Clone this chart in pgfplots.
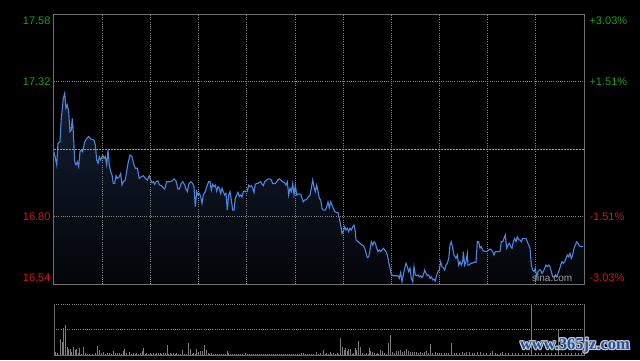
\documentclass[border=0pt]{standalone}
\usepackage{pgfplots}
\usepackage{pgfplotstable}
\pgfplotsset{compat=1.18}
\usepackage{fontspec}
\setmainfont{Liberation Sans}
\newfontfamily\wmfont{Liberation Serif}
\definecolor{upg}{RGB}{26,160,26}
\definecolor{dnr}{RGB}{210,22,22}
\definecolor{gridc}{RGB}{135,135,135}
\definecolor{bordc}{RGB}{110,110,110}
\definecolor{linec}{RGB}{74,134,226}
\definecolor{filltop}{RGB}{18,30,50}
\definecolor{fillbot}{RGB}{4,5,8}
\definecolor{volc}{RGB}{125,125,125}
\definecolor{sinac}{RGB}{160,160,160}
\definecolor{wmblue}{RGB}{35,80,150}
\definecolor{wmhalo}{RGB}{200,205,215}

\pgfplotstableread{
x y
0 17.051
2.7 17.000
4 17.083
6 17.089
7.3 17.179
9.3 17.256
10.7 17.276
12 17.218
13.3 17.231
14.7 17.205
16 17.128
17.3 17.134
18.3 17.179
19.3 17.128
20.7 17.012
22 17.000
23.3 17.012
24.7 16.993
26 17.051
27.3 17.057
28.7 17.051
30.7 17.089
33.3 17.105
34.7 17.109
36.7 17.100
40 17.096
41.3 17.077
42.7 17.019
44 17.006
45.3 17.032
46.7 17.019
48.7 17.038
50 17.025
51.3 17.032
52.7 17.000
54 17.057
55.3 17.000
56.7 16.974
58 16.961
59.3 16.929
60.7 16.929
62 16.958
63.3 16.948
65.3 16.955
66.7 16.967
68 16.923
69.3 16.935
71.3 16.942
72.7 16.974
74 17.006
76 17.038
78 17.032
80 17.000
81.3 16.987
83.3 16.987
85.3 16.948
87.3 16.955
89.3 16.958
91.3 16.948
93.3 16.942
95.3 16.958
96.7 16.942
98 16.931
99.3 16.935
100.7 16.925
102 16.935
104 16.938
105.3 16.923
107.3 16.920
108.7 16.915
110.7 16.907
112.7 16.935
115.3 16.935
118 16.938
120 16.946
122 16.938
124 16.907
125.3 16.907
127.3 16.929
128.7 16.935
130.7 16.923
132 16.907
133.3 16.897
134.7 16.925
136.7 16.935
138.7 16.929
140 16.916
141.3 16.839
142.7 16.897
144 16.884
145.3 16.890
146.7 16.878
148 16.852
149.3 16.884
151.3 16.897
153.3 16.923
154.7 16.935
156 16.935
157.3 16.903
158.7 16.925
160 16.916
161.3 16.922
162.7 16.899
164 16.916
165.3 16.910
166.7 16.890
168 16.910
169.3 16.897
170.7 16.884
172 16.890
173.3 16.826
174.7 16.884
176 16.897
177.3 16.865
178.7 16.826
180 16.826
181.3 16.871
182.7 16.884
184 16.894
185.3 16.878
186.7 16.884
188 16.876
189.3 16.897
190.7 16.899
192 16.897
193.3 16.899
194.7 16.922
196 16.916
197.3 16.920
198.7 16.910
200 16.894
201.3 16.925
202.7 16.929
204 16.929
205.3 16.933
206.7 16.935
208 16.926
209.3 16.920
210.7 16.935
212 16.939
214 16.946
216 16.946
217.3 16.942
218.7 16.928
220 16.928
221.3 16.928
222.7 16.935
224 16.942
225.3 16.946
226.7 16.942
228.7 16.935
230.7 16.931
232 16.922
233.3 16.935
234.7 16.884
236 16.910
237.3 16.897
238.7 16.929
240 16.884
241.3 16.922
242.7 16.884
244 16.887
245.3 16.888
246.7 16.887
248 16.871
249.3 16.858
250.7 16.865
252 16.865
253.3 16.871
254.7 16.878
256 16.884
257.3 16.910
258.7 16.942
260 16.916
261.3 16.897
262.7 16.922
264 16.899
265.3 16.871
266.7 16.865
268 16.833
269.3 16.826
271.3 16.826
272.7 16.839
274 16.858
275.3 16.835
276.7 16.858
278 16.845
279.3 16.833
280.7 16.820
282.7 16.817
284 16.816
285.3 16.794
286.7 16.768
288 16.736
289.3 16.743
290.7 16.762
292 16.749
293.3 16.756
294.7 16.743
296 16.756
297.3 16.749
298.7 16.762
300 16.768
301.3 16.743
302 16.711
304 16.704
306 16.698
308 16.691
309.3 16.689
310.7 16.679
312 16.659
313.3 16.643
314.7 16.646
316 16.672
317.3 16.704
318.7 16.691
320 16.704
321.3 16.698
322.7 16.679
324 16.666
325.3 16.672
326.7 16.666
328 16.672
329.3 16.679
330.7 16.672
332 16.666
333.3 16.653
334.7 16.627
336 16.602
337.3 16.578
339.3 16.573
341.3 16.573
344 16.573
345.3 16.563
346.7 16.586
348 16.550
349.3 16.576
350.7 16.602
352 16.621
353.3 16.608
354.7 16.589
356 16.602
357.3 16.563
358.7 16.550
360 16.608
361.3 16.576
362.7 16.573
364 16.576
365.3 16.569
366.7 16.573
368 16.566
369.3 16.576
370.7 16.595
372 16.582
373.3 16.573
374.7 16.576
376 16.563
377.3 16.569
378.7 16.557
380 16.560
381.3 16.553
382.7 16.576
384 16.589
385.3 16.595
386.7 16.627
388 16.608
389.3 16.604
390.7 16.595
392 16.614
393.3 16.621
394.7 16.640
396 16.691
397.3 16.704
398.7 16.679
400 16.653
402 16.640
403.3 16.653
404.7 16.614
406 16.627
407.3 16.614
408.7 16.627
409.3 16.666
410.7 16.614
412 16.627
413.3 16.659
414 16.614
415.3 16.614
416.7 16.621
418 16.621
420 16.625
422 16.625
423.3 16.704
424.7 16.704
426 16.679
427.3 16.685
428.7 16.672
430.7 16.666
432.7 16.666
434.7 16.672
436 16.676
437.3 16.672
438.7 16.666
440 16.653
441.3 16.666
442.7 16.666
444.7 16.666
446 16.666
447.3 16.704
448.7 16.704
450 16.717
451.3 16.730
452.7 16.679
454 16.691
455.3 16.698
456.7 16.685
458 16.679
459.3 16.704
460.7 16.717
462 16.704
463.3 16.723
464.7 16.711
466 16.711
467.3 16.704
468.7 16.717
470 16.717
472 16.717
473.3 16.704
474.7 16.691
476 16.679
477.3 16.614
478.7 16.595
480 16.589
481.3 16.602
482.7 16.569
484 16.589
485.3 16.595
486.7 16.595
488 16.582
489.3 16.589
490.7 16.602
492 16.614
493.3 16.608
494.7 16.614
496 16.608
497.3 16.589
498.7 16.569
500 16.569
501.3 16.576
502.7 16.569
504 16.582
505.3 16.595
506.7 16.614
508 16.627
509.3 16.621
510.7 16.627
512 16.640
513.3 16.653
514.7 16.646
516 16.659
517.3 16.640
518.7 16.653
520 16.679
521.3 16.691
522.7 16.704
524 16.698
525.3 16.689
526.7 16.685
528 16.686
529.3 16.686
}\pricedata

\pgfplotstableread{
x v
1.3 5.3
3.3 3.3
6 30.9
8 26.3
9.3 52.6
11.3 59.2
13.3 16.4
14.7 11.2
16 11.2
17.3 6.6
19.3 15.1
21.3 9.9
22.7 12.5
24 3.3
25.3 13.2
27.3 2
29.3 15.1
31.3 3.3
33.3 2
35.5 2.6
38 2
41.3 3.3
43.3 17.8
45.3 9.9
47.3 4.6
49.3 5.9
51.3 2
53.3 3.3
55.3 3.3
57.3 2.6
59.3 7.9
61.3 3.3
63.3 4.6
65.3 3.3
67.3 2.6
69.3 7.9
70.7 11.2
72.7 3.3
75.3 5.9
77.3 2.6
79.3 3.3
81 2.6
82.7 3.3
84.3 2.6
86 3.3
88 8.6
89.3 13.2
91 2.6
92.7 3.3
94.3 2.6
96 3.3
97.7 2.6
99.3 4.6
101 2.6
102.7 3.3
104.3 3.9
106 3.3
107.7 2.6
109.3 3.3
111.3 3.3
113.3 19.7
114.7 2.6
116 3.3
117.7 2.6
119.3 3.3
121 2.6
122.7 3.3
124.3 2.6
126 2.6
128 9.9
130 2
132.3 2.6
134.7 23
136.7 11.2
138 2.6
139.3 3.3
141 2.6
142.7 11.2
144.7 6.6
146.7 8.6
148 7.9
150 19.7
152 9.9
154 3.3
155.7 2.6
157.3 3.3
159 2
161 2.6
163 2
165 2.6
167 2
169 2.6
171 2
173.3 7.9
174.7 4.6
176.7 2.6
178.7 2
180.7 2.6
182.7 2
184.7 2.6
186.7 2
188.7 2.6
191.3 4.6
193 2.6
195 2
197 2.6
199 2
201 2.6
203 2
205 2.6
207 2
209 2.6
211 2
213 2.6
215 2
217 2.6
219 2
221 2.6
223 2
225 2.6
227 2
229 2.6
231 2
233 2.6
235 2
237 2.6
239 2
241 2.6
243 2
245 2.6
247 3.3
249.3 4.6
251 2.6
253 2
255 2.6
257 2
259 2.6
262 5.9
264 2.6
266 3.3
269.3 9.9
271 2.6
272.7 4.6
274.3 2.6
276 5.9
277.7 2.6
279.3 3.3
281 2.6
283 3.3
284.7 2.6
286.7 32.9
288 16.4
290 9.9
291.3 13.2
293.3 8.6
294.7 11.2
296.7 11.2
298 2.6
299.3 3.3
301.3 13.2
302.7 9.9
304.7 27.6
306 15.1
308 3.3
310.3 2.6
312.7 4.6
314 2.6
315.3 13.2
316.7 8.6
318.7 6.6
320.7 3.3
322 2.6
323.3 3.3
324.7 2.6
326 9.9
328 7.2
330 3.3
332 2.6
334 23
336 39.5
338 6.6
340 4.6
342 8.6
344 7.2
346 9.9
348 6.6
350 8.6
352 11.2
354 8.6
356 6.6
358 5.9
360 6.6
362.7 5.9
364.7 4.6
366.7 5.9
368.7 4.6
370.7 5.9
372.7 7.2
374.7 4.6
376.7 21.7
378.7 4.6
381.3 5.9
383.3 4.6
385.3 3.3
387.3 3.3
390 3.3
392.7 4.6
394.7 3.3
397.3 24.3
400 3.3
402.7 4.6
405.3 3.3
408 5.9
410 4.6
412.7 5.9
415.3 5.9
418 3.3
420.7 4.6
423.3 5.9
426 5.9
429.3 3.3
432.7 4.6
436 3.3
438.7 7.2
441.3 3.3
443.7 2.6
446 4.6
448.7 5.9
451.3 3.3
454.7 3.3
458 3.3
461.3 3.3
464.7 3.3
468 3.3
471.3 3.3
474.7 3.3
477.7 100
481 3.3
484.3 4.6
487.7 3.3
491 3.3
494.3 4.6
497.7 3.3
501 4.6
504.3 49.3
507.7 4.6
511 3.3
514.3 4.6
517.7 3.3
521 3.3
524.3 4.6
527.7 3.3
}\voldata

\begin{document}
\begin{tikzpicture}
\fill[black] (0,0) rectangle (640pt,360pt);
\begin{axis}[
  at={(54pt,75.7pt)}, anchor=south west,
  scale only axis, width=530pt, height=270pt,
  xmin=0, xmax=530, ymin=16.54, ymax=17.58,
  axis on top,
  axis line style={draw=bordc, line width=1pt},
  xtick={48.18,96.36,144.55,192.73,240.91,289.09,337.27,385.45,433.64,481.82},
  ytick={16.80,17.32},
  xticklabels={}, yticklabels={},
  major tick length=0pt,
  grid=major,
  grid style={draw=gridc, line width=0.8pt, dash pattern=on 1pt off 1.2pt},
  extra y ticks={17.06}, extra y tick labels={},
  extra y tick style={grid style={draw=gridc!80!white, line width=0.8pt, dash pattern=on 2pt off 1pt}},
  clip=false,
  font=\fontsize{11}{13}\selectfont,
]
\addplot[draw=none, top color=filltop, bottom color=fillbot] table[x=x,y=y] {\pricedata} \closedcycle;
\addplot[linec, line width=1.1pt, mark=none] table[x=x,y=y] {\pricedata};
\node[anchor=east, text=upg, yshift=-6pt] at (axis cs:0,17.58) {17.58};
\node[anchor=east, text=upg] at (axis cs:0,17.32) {17.32};
\node[anchor=east, text=dnr] at (axis cs:0,16.80) {16.80};
\node[anchor=east, text=dnr, yshift=6.5pt] at (axis cs:0,16.54) {16.54};
\node[anchor=west, text=upg, yshift=-6pt, xshift=2pt] at (axis cs:530,17.58) {+3.03\%};
\node[anchor=west, text=upg, xshift=2pt] at (axis cs:530,17.32) {+1.51\%};
\node[anchor=west, text=dnr, xshift=2pt] at (axis cs:530,16.80) {-1.51\%};
\node[anchor=west, text=dnr, yshift=6.5pt, xshift=2pt] at (axis cs:530,16.54) {-3.03\%};
\node[anchor=base east, text=sinac, inner sep=0pt, font=\fontsize{10}{12}\selectfont] at (axis cs:518.4,16.549) {sina.com};
\end{axis}
\begin{axis}[
  at={(54pt,5pt)}, anchor=south west,
  scale only axis, width=530pt, height=50.7pt,
  xmin=0, xmax=530, ymin=0, ymax=100,
  axis line style={draw=none},
  xtick=\empty, ytick={50,100}, yticklabels={},
  major tick length=0pt,
  ymajorgrids,
  grid style={draw=gridc, line width=0.8pt, dash pattern=on 1pt off 1.2pt},
  clip=false,
]
\addplot[ycomb, volc, line width=0.9pt, mark=none] table[x=x,y=v] {\voldata};
\draw[bordc, line width=1pt] (rel axis cs:0,1) -- (rel axis cs:0,0) -- (rel axis cs:1,0) -- (rel axis cs:1,1);
\end{axis}
\foreach \dx/\dy in {-1/0,1/0,0/-1,0/1,-0.8/-0.8,0.8/0.8,-0.8/0.8,0.8/-0.8}{
  \node[text=wmhalo, font=\wmfont\bfseries\fontsize{16.5}{18}\selectfont] at ({575pt+\dx pt},{14.5pt+\dy pt}) {www.365jz.com};
}
\node[text=wmblue, font=\wmfont\bfseries\fontsize{16.5}{18}\selectfont] at (575pt,14.5pt) {www.365jz.com};
\end{tikzpicture}
\end{document}
